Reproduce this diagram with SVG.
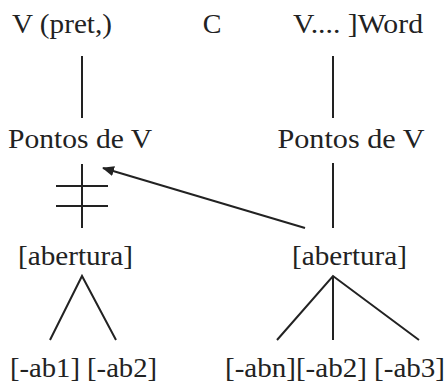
<svg xmlns="http://www.w3.org/2000/svg" width="448" height="386" viewBox="0 0 448 386">
  <style>
    .t { font-family: Liberation Serif, DejaVu Serif, serif; font-size: 28px; fill: #222; text-anchor: middle; }
    .ln { stroke: #222; stroke-width: 2; fill: none; }
  </style>
  <defs>
    <marker id="arrow" viewBox="0 0 12 10" refX="11" refY="5" markerWidth="12" markerHeight="10" markerUnits="userSpaceOnUse" orient="auto">
      <path d="M0,0 L12,5 L0,10 Z" fill="#222"/>
    </marker>
  </defs>
  <rect width="448" height="386" fill="#fff"/>

  <g id="v-pret"><text class="t" x="62" y="33" textLength="100" lengthAdjust="spacingAndGlyphs">V (pret,)</text></g>
  <g id="c"><text class="t" x="212" y="33">C</text></g>
  <g id="v-word"><text class="t" x="358" y="33" textLength="130" lengthAdjust="spacingAndGlyphs">V.... ]Word</text></g>

  <g id="pontos-left"><text class="t" x="80" y="148" textLength="144" lengthAdjust="spacingAndGlyphs">Pontos de V</text></g>
  <g id="pontos-right"><text class="t" x="351" y="148" textLength="147" lengthAdjust="spacingAndGlyphs">Pontos de V</text></g>

  <g id="abertura-left"><text class="t" x="75.5" y="265" textLength="115" lengthAdjust="spacingAndGlyphs">[abertura]</text></g>
  <g id="abertura-right"><text class="t" x="349.5" y="265" textLength="115" lengthAdjust="spacingAndGlyphs">[abertura]</text></g>

  <g id="ab-left"><text class="t" x="83.5" y="377" textLength="147" lengthAdjust="spacingAndGlyphs">[-ab1] [-ab2]</text></g>
  <g id="ab-right"><text class="t" x="335" y="377" textLength="220" lengthAdjust="spacingAndGlyphs">[-abn][-ab2] [-ab3]</text></g>

  <g id="connectors">
    <line class="ln" x1="82" y1="56" x2="82" y2="118"/>
    <line class="ln" x1="333" y1="56" x2="333" y2="118"/>
    <!-- blocked association: vertical with two crossing bars -->
    <line class="ln" x1="82" y1="164" x2="82" y2="228"/>
    <line class="ln" x1="56" y1="186" x2="108" y2="186"/>
    <line class="ln" x1="56" y1="206" x2="108" y2="206"/>
    <line class="ln" x1="333" y1="163" x2="333" y2="228"/>
    <line class="ln" x1="305" y1="228" x2="103" y2="168" marker-end="url(#arrow)"/>
    <!-- feature trees -->
    <polyline class="ln" points="50,340 82,276 116,340"/>
    <polyline class="ln" points="277,340 333,276 419,340"/>
    <line class="ln" x1="333" y1="276" x2="333" y2="340"/>
  </g>
</svg>
